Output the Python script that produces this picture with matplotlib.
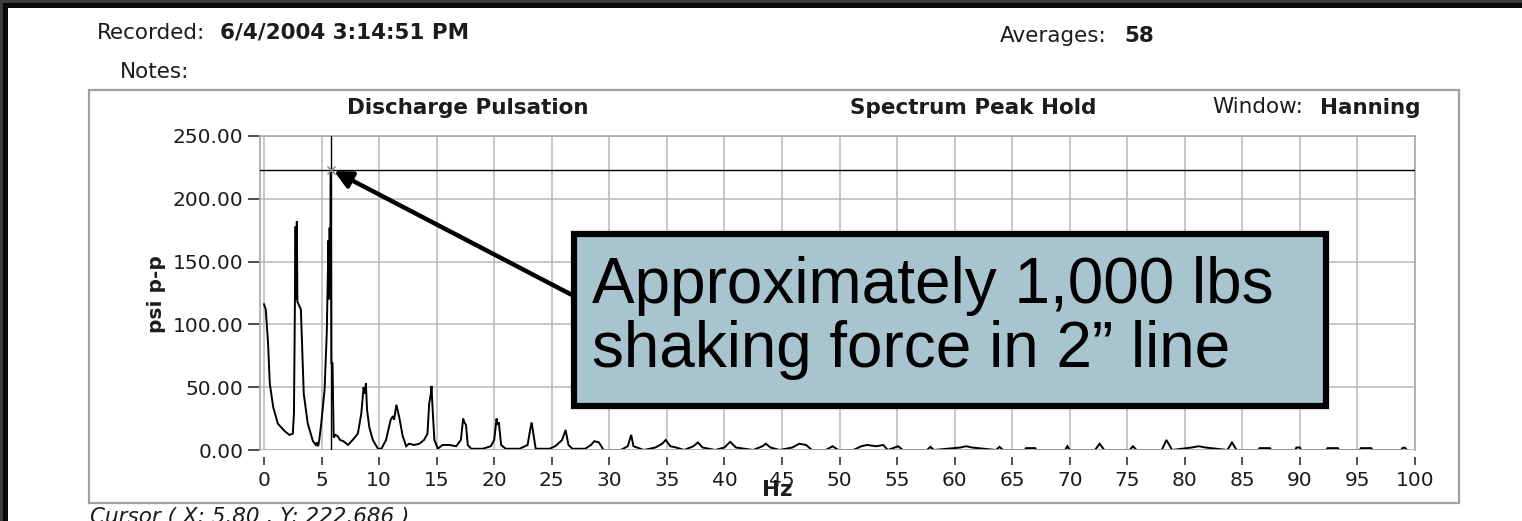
import matplotlib
matplotlib.use("Agg")
import matplotlib.pyplot as plt
from matplotlib.patches import Rectangle, FancyArrowPatch

# ---------------- data ----------------
freq_hz = [0.0, 0.15, 0.35, 0.5, 0.8, 1.2, 1.8, 2.2, 2.5, 2.6, 2.68, 2.74, 2.78, 2.85, 2.9,
           3.05, 3.2, 3.45, 3.8, 4.25, 4.5, 4.6, 4.7, 4.8, 4.97, 5.26, 5.45, 5.6, 5.65, 5.7,
           5.75, 5.8, 5.85, 5.95, 6.05, 6.2, 6.4, 6.6, 6.9, 7.3, 7.7, 8.15, 8.45, 8.65, 8.75,
           8.85, 8.95, 9.15, 9.45, 9.9, 10.2, 10.6, 11.0, 11.2, 11.3, 11.5, 11.75, 12.05, 12.35,
           12.6, 13.05, 13.5, 13.9, 14.2, 14.35, 14.5, 14.55, 14.65, 14.8, 15.1, 15.5, 16.1,
           16.7, 17.1, 17.3, 17.4, 17.55, 17.7, 18.0, 19.0, 19.7, 20.0, 20.2, 20.3, 20.4, 20.6,
           21.0, 22.2, 22.9, 23.1, 23.25, 23.4, 23.6, 24.8, 25.3, 25.9, 26.2, 26.45, 26.8, 27.9,
           28.4, 28.7, 29.1, 29.5, 31.0, 31.6, 31.9, 32.1, 33.0, 34.0, 34.6, 34.9, 35.3, 35.8,
           36.5, 37.3, 37.7, 38.1, 39.2, 40.0, 40.5, 41.0, 42.5, 43.3, 43.6, 44.0, 44.8, 45.9,
           46.5, 47.1, 47.6, 48.8, 49.4, 49.9, 51.2, 51.9, 52.4, 53.2, 53.8, 54.2, 54.8, 55.1,
           55.5, 57.6, 57.9, 58.2, 60.5, 61.0, 61.5, 63.6, 63.9, 64.2, 66.1, 66.2, 67.0, 67.1,
           69.6, 69.8, 70.0, 72.2, 72.6, 73.0, 75.2, 75.5, 75.8, 78.0, 78.4, 78.9, 80.6, 81.2,
           81.8, 83.7, 84.1, 84.5, 86.4, 86.5, 87.4, 87.5, 89.6, 89.7, 90.0, 90.1, 92.3, 92.4,
           93.3, 93.4, 95.2, 95.3, 96.2, 96.3, 98.8, 98.9, 99.1, 99.3]
psi_pp = [116, 112, 85, 53, 34, 21, 15, 12, 13, 29, 112, 178, 120, 182, 118,
          115, 112, 45, 21, 7, 4, 6, 3, 8, 21, 48, 93, 167, 120, 177,
          140, 222.686, 69, 69, 10, 12, 11, 8, 7, 4, 8, 13, 29, 50, 45,
          53, 32, 18, 8, 1, 1, 8, 24, 27, 24, 36, 26, 11, 3,
          5, 4, 5, 8, 13, 37, 45, 51, 32, 8, 1, 4, 4,
          3, 8, 25, 22, 20, 4, 1, 1, 3, 8, 25, 20, 22, 4,
          1, 1, 4, 15, 22, 13, 1, 1, 3, 8, 16, 4, 1, 1,
          4, 7, 6, 0, 0, 3, 12, 3, 0, 2, 5, 8, 3, 2,
          0, 3, 6, 2, 0, 2, 6.5, 2, 0, 3, 5, 2, 0, 2,
          5, 4, 0, 0, 3, 0, 0, 3, 4, 3, 4, 0, 2, 3,
          0, 0, 2.5, 0, 2, 3, 2, 0, 2.5, 0, 0, 1.5, 1.5, 0,
          0, 3, 0, 0, 5, 0, 0, 3, 0, 0, 8, 0, 2, 3,
          2, 0, 6, 0, 0, 1.5, 1.5, 0, 0, 2, 2, 0, 0, 1.5,
          1.5, 0, 0, 1.5, 1.5, 0, 0, 1.5, 2, 0]

x_ticks = list(range(0, 101, 5))
y_ticks = [0, 50, 100, 150, 200, 250]
y_tick_labels = ["0.00", "50.00", "100.00", "150.00", "200.00", "250.00"]

cursor_x = 5.80
cursor_y = 222.686

callout_lines = ["Approximately 1,000 lbs", "shaking force in 2\u201d line"]

# ---------------- figure ----------------
W, H = 1522, 521
fig = plt.figure(figsize=(W / 100, H / 100), dpi=100)
fig.patch.set_facecolor("#3c3c3c")

def fx(px):
    return px / W

def fy(py):
    return 1 - py / H

def fig_rect(x0, y0, x1, y1, zorder=-10, **kw):
    r = Rectangle((fx(x0), fy(y1)), fx(x1) - fx(x0), fy(y0) - fy(y1),
                  transform=fig.transFigure, zorder=zorder, **kw)
    fig.add_artist(r)
    return r

# outer frame
fig_rect(3, 3, W, H, facecolor="#080808", edgecolor="none", zorder=-12)
fig_rect(8, 8, W, H, facecolor="white", edgecolor="none", zorder=-11)
# panel border
fig_rect(89, 90, 1459, 503, facecolor="none", edgecolor="#a0a0a0", linewidth=1.6, zorder=-10)

txt = "#1c1c1c"
ui = "DejaVu Sans"
fs = 15.5

fig.text(fx(97), fy(33), "Recorded:", fontsize=fs, family=ui, color=txt, va="center", ha="left")
fig.text(fx(220), fy(33), "6/4/2004 3:14:51 PM", fontsize=fs, family=ui, color=txt,
         va="center", ha="left", fontweight="bold")
fig.text(fx(1000), fy(36), "Averages:", fontsize=fs, family=ui, color=txt, va="center", ha="left")
fig.text(fx(1124), fy(36), "58", fontsize=fs, family=ui, color=txt, va="center", ha="left",
         fontweight="bold")
fig.text(fx(120), fy(72), "Notes:", fontsize=fs, family=ui, color=txt, va="center", ha="left")

fig.text(fx(468), fy(108), "Discharge Pulsation", fontsize=fs, family=ui, color=txt,
         va="center", ha="center", fontweight="bold")
fig.text(fx(973), fy(108), "Spectrum Peak Hold", fontsize=fs, family=ui, color=txt,
         va="center", ha="center", fontweight="bold")
fig.text(fx(1212), fy(107), "Window:", fontsize=fs, family=ui, color=txt, va="center", ha="left")
fig.text(fx(1421), fy(108), "Hanning", fontsize=fs, family=ui, color=txt, va="center",
         ha="right", fontweight="bold")

fig.text(fx(156), fy(294), "psi p-p", fontsize=14.5, family=ui, color=txt, va="center",
         ha="center", rotation=90, fontweight="bold")
fig.text(fx(777), fy(490), "Hz", fontsize=fs, family=ui, color=txt, va="center", ha="center",
         fontweight="bold")
fig.text(fx(90), fy(507), "Cursor ( X: 5.80 , Y: 222.686 )", fontsize=fs, family=ui,
         color=txt, va="top", ha="left", style="italic")

# ---------------- axes ----------------
ax = fig.add_axes([fx(260), fy(450), fx(1415) - fx(260), fy(136) - fy(450)])
ax.set_zorder(1)
ax.set_facecolor("white")
ax.set_xlim(-0.35, 100)
ax.set_ylim(0, 250)
ax.set_xticks(x_ticks)
ax.set_xticklabels([str(v) for v in x_ticks])
ax.set_yticks(y_ticks)
ax.set_yticklabels(y_tick_labels)
ax.grid(True, color="#bdbdbd", linewidth=1.2, zorder=0)
ax.set_axisbelow(True)
for s in ["top", "right", "left"]:
    ax.spines[s].set_color("#a8a8a8")
    ax.spines[s].set_linewidth(1.2)
ax.spines["bottom"].set_position(("outward", 5))
ax.spines["bottom"].set_visible(False)
ax.tick_params(axis="x", direction="out", length=6, width=1.2, color="#303030",
               labelsize=14.5, labelcolor=txt, pad=4)
ax.tick_params(axis="y", direction="out", length=9, width=1.2, color="#303030",
               labelsize=14.5, labelcolor=txt, pad=3)
for lab in ax.get_xticklabels() + ax.get_yticklabels():
    lab.set_family(ui)

ax.plot(freq_hz, psi_pp, color="black", linewidth=1.4, zorder=3, solid_joinstyle="miter")
ax.axhline(0, color="#b0b0b0", linewidth=1.2, zorder=4)

# cursor
ax.axhline(cursor_y, color="black", linewidth=1.0, zorder=5)
ax.axvline(cursor_x, color="black", linewidth=1.0, zorder=5)
ax.plot([cursor_x], [cursor_y], marker="x", color="#808080", markersize=6, mew=1.0, zorder=6)

# ---------------- callout ----------------
fig_rect(574, 234, 1326, 406, facecolor="#a8c5cf", edgecolor="black", linewidth=4.5, zorder=10)
fig.text(fx(592), fy(286), callout_lines[0], fontsize=46, family="Liberation Sans",
         color="black", va="center", ha="left", zorder=11)
fig.text(fx(592), fy(350), callout_lines[1], fontsize=46, family="Liberation Sans",
         color="black", va="center", ha="left", zorder=11)

arrow = FancyArrowPatch((fx(574), fy(296)), (fx(334), fy(171)), transform=fig.transFigure,
                        arrowstyle="-|>,head_length=7,head_width=3.5", mutation_scale=1.5,
                        color="black", linewidth=3.2, zorder=9, shrinkA=0, shrinkB=0)
fig.add_artist(arrow)

fig.savefig("out.png", dpi=100, facecolor=fig.get_facecolor())
